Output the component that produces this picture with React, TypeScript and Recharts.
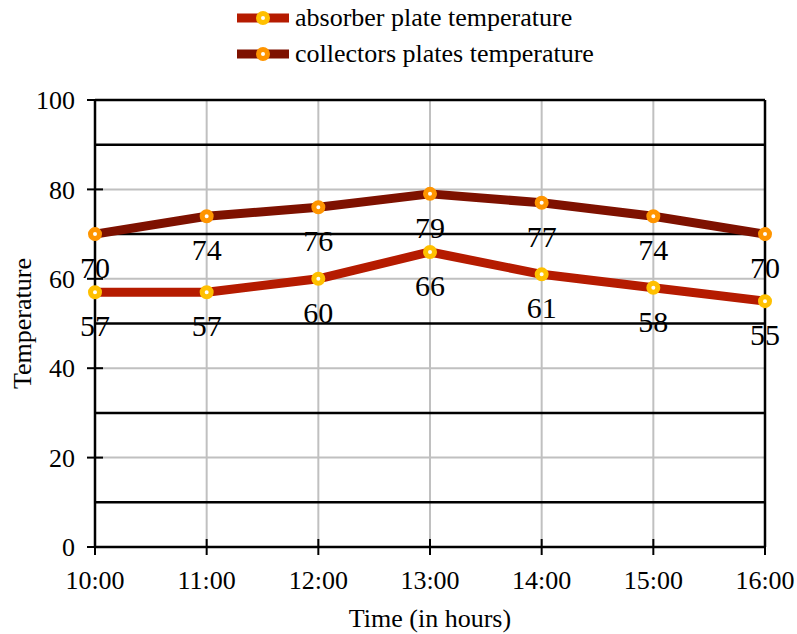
import React from "react";
import {
  LineChart,
  Line,
  XAxis,
  YAxis,
  CartesianGrid,
  Legend,
  LabelList,
} from "recharts";

// Hourly readings
const times = ["10:00", "11:00", "12:00", "13:00", "14:00", "15:00", "16:00"];
const absorberTemp = [57, 57, 60, 66, 61, 58, 55];
const collectorTemp = [70, 74, 76, 79, 77, 74, 70];
const yTicks = [0, 20, 40, 60, 80, 100];
const minorLines = [10, 30, 50, 70, 90, 100];

const seriesInfo = [
  { key: "absorber", name: "absorber plate temperature", line: "#B51B00", dot: "#FFC000" },
  { key: "collectors", name: "collectors plates temperature", line: "#7E1100", dot: "#FF9500" },
];

const data = times.map((t, i) => ({
  time: t,
  absorber: absorberTemp[i],
  collectors: collectorTemp[i],
}));

const FONT = '"Liberation Serif", "Times New Roman", serif';
const serif = { fontFamily: FONT };
const TICK = 8;
const Y_GAP = 12;
const X_GAP = 16;

const YTick = (props: any) => {
  const { x, y, payload } = props;
  const ax = x + TICK + Y_GAP;
  return (
    <g>
      <line x1={ax - TICK} x2={ax + TICK} y1={y} y2={y} stroke="#000" strokeWidth={2} />
      <text x={x} y={y} dy="0.35em" textAnchor="end" style={serif} fontSize={26} fill="#000">
        {payload.value}
      </text>
    </g>
  );
};

const XTick = (props: any) => {
  const { x, y, payload } = props;
  const ay = y - TICK - X_GAP;
  return (
    <g>
      <line x1={x} x2={x} y1={ay - TICK} y2={ay + TICK} stroke="#000" strokeWidth={2} />
      <text x={x} y={y} dy="0.69em" textAnchor="middle" style={serif} fontSize={26} fill="#000">
        {payload.value}
      </text>
    </g>
  );
};

const ValueLabel = (props: any) => {
  const { x, y, value } = props;
  return (
    <text x={x} y={y + 44} textAnchor="middle" style={serif} fontSize={30} fill="#000">
      {Math.round(value)}
    </text>
  );
};

const LegendBox = () => (
  <div style={{ height: 100, paddingLeft: 237, boxSizing: "border-box", fontFamily: FONT, fontSize: 26, color: "#000" }}>
    {seriesInfo.map((s) => (
      <div key={s.key} style={{ display: "flex", alignItems: "center", height: 36 }}>
        <svg width={52} height={16} style={{ marginRight: 6 }}>
          <line x1={0} x2={52} y1={8} y2={8} stroke={s.line} strokeWidth={9} />
          <circle cx={26} cy={8} r={4.5} fill="#fff" stroke={s.dot} strokeWidth={5} />
        </svg>
        <span style={{ lineHeight: "36px" }}>{s.name}</span>
      </div>
    ))}
  </div>
);

export default function App() {
  return (
    <div style={{ position: "absolute", left: 0, top: 0, fontFamily: FONT }}>
      <LineChart width={797} height={634} data={data} margin={{ top: 0, right: 32, bottom: 0, left: 0 }} style={serif}>
        <CartesianGrid stroke="#c0c0c0" strokeWidth={2} horizontalValues={[20, 40, 60, 80]} />
        <CartesianGrid
          stroke="#000"
          strokeWidth={2.5}
          horizontalValues={minorLines}
          verticalValues={["16:00"]}
        />
        <XAxis
          dataKey="time"
          type="category"
          scale="point"
          padding={{ left: 0, right: 0 }}
          height={87}
          axisLine={{ stroke: "#000", strokeWidth: 2.5 }}
          tickLine={false}
          tickSize={TICK}
          tickMargin={X_GAP}
          tick={<XTick />}
          interval={0}
          label={{ value: "Time (in hours)", position: "insideBottom", offset: 7, style: serif, fontSize: 26, fill: "#000" }}
        />
        <YAxis
          domain={[0, 100]}
          ticks={yTicks}
          width={95}
          axisLine={{ stroke: "#000", strokeWidth: 2.5 }}
          tickLine={false}
          tickSize={TICK}
          tickMargin={Y_GAP}
          tick={<YTick />}
          label={{
            value: "Temperature",
            angle: -90,
            position: "insideLeft",
            offset: 22,
            style: { textAnchor: "middle", fontFamily: FONT },
            fontSize: 26,
            fill: "#000",
          }}
        />
        <Legend verticalAlign="top" align="left" content={() => <LegendBox />} wrapperStyle={{ left: 0, top: 0, width: 797 }} />
        {seriesInfo.map((s) => (
          <Line
            key={s.key}
            type="linear"
            dataKey={s.key}
            name={s.name}
            stroke={s.line}
            strokeWidth={9}
            strokeLinejoin="round"
            dot={{ r: 4.5, fill: "#fff", stroke: s.dot, strokeWidth: 5 }}
            activeDot={false}
            isAnimationActive={false}
          >
            <LabelList dataKey={s.key} content={<ValueLabel />} />
          </Line>
        ))}
      </LineChart>
    </div>
  );
}
